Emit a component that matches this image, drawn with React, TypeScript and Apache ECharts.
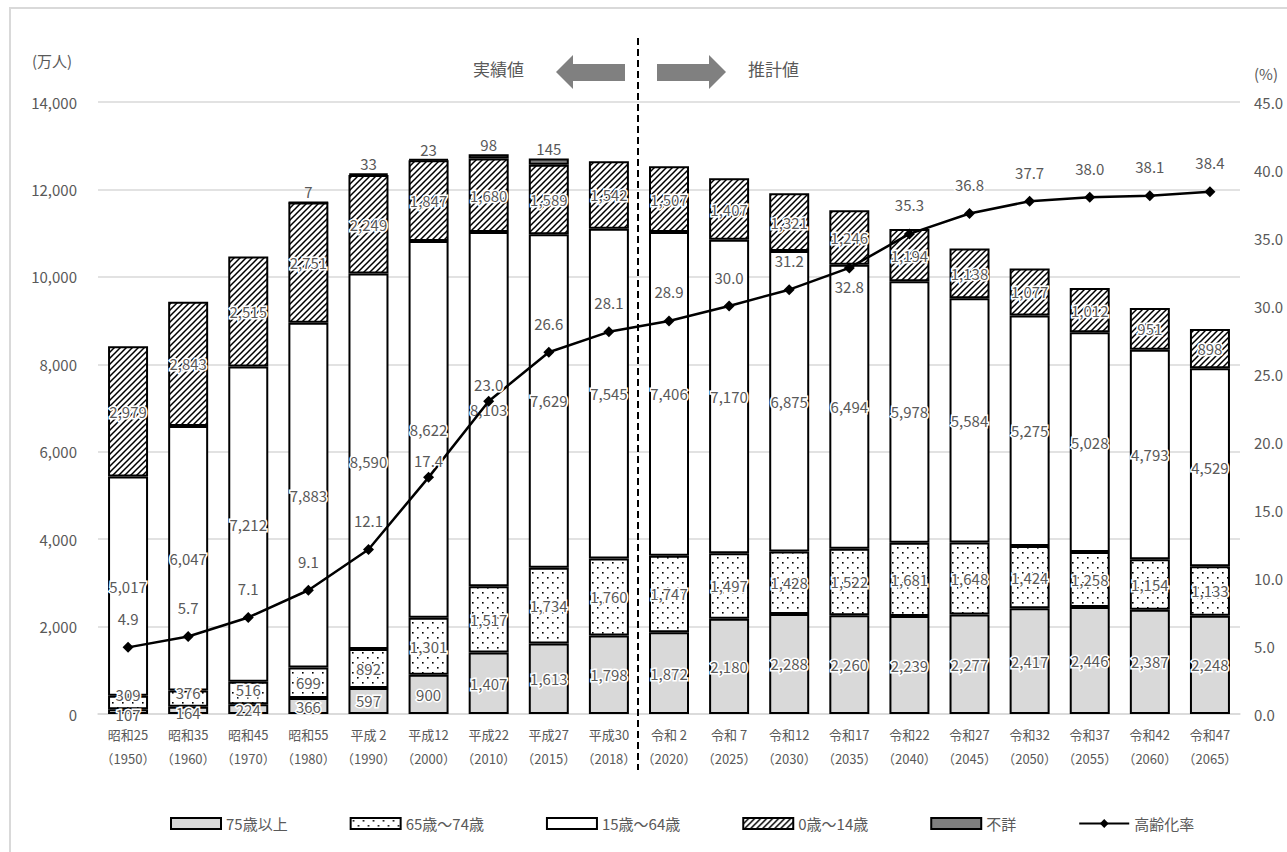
import React, { useEffect, useRef } from "react";
import * as echarts from "echarts";

const categories = [
  "昭和25\n（1950）", "昭和35\n（1960）", "昭和45\n（1970）", "昭和55\n（1980）",
  "平成 2\n（1990）", "平成12\n（2000）", "平成22\n（2010）", "平成27\n（2015）",
  "平成30\n（2018）", "令和 2\n（2020）", "令和 7\n（2025）", "令和12\n（2030）",
  "令和17\n（2035）", "令和22\n（2040）", "令和27\n（2045）", "令和32\n（2050）",
  "令和37\n（2055）", "令和42\n（2060）", "令和47\n（2065）",
];
const age75plus = [107, 164, 224, 366, 597, 900, 1407, 1613, 1798, 1872, 2180, 2288, 2260, 2239, 2277, 2417, 2446, 2387, 2248];
const age65to74 = [309, 376, 516, 699, 892, 1301, 1517, 1734, 1760, 1747, 1497, 1428, 1522, 1681, 1648, 1424, 1258, 1154, 1133];
const age15to64 = [5017, 6047, 7212, 7883, 8590, 8622, 8103, 7629, 7545, 7406, 7170, 6875, 6494, 5978, 5584, 5275, 5028, 4793, 4529];
const age0to14 = [2979, 2843, 2515, 2751, 2249, 1847, 1680, 1589, 1542, 1507, 1407, 1321, 1246, 1194, 1138, 1077, 1012, 951, 898];
const unknown: (number | null)[] = [null, null, null, 7, 33, 23, 98, 145, null, null, null, null, null, null, null, null, null, null, null];
const agingRate = [4.9, 5.7, 7.1, 9.1, 12.1, 17.4, 23.0, 26.6, 28.1, 28.9, 30.0, 31.2, 32.8, 35.3, 36.8, 37.7, 38.0, 38.1, 38.4];

const seriesNames = ["75歳以上", "65歳～74歳", "15歳～64歳", "0歳～14歳", "不詳", "高齢化率"];

const FONT = "'Noto Sans CJK JP', 'Noto Sans', sans-serif";
const TEXT = "#595959";

function hatchPattern() {
  const s = 6;
  const c = document.createElement("canvas");
  c.width = s;
  c.height = s;
  const g = c.getContext("2d")!;
  g.fillStyle = "#fff";
  g.fillRect(0, 0, s, s);
  g.strokeStyle = "#000";
  g.lineWidth = 1.5;
  g.beginPath();
  g.moveTo(-1, s + 1);
  g.lineTo(s + 1, -1);
  g.moveTo(-2, 2);
  g.lineTo(2, -2);
  g.moveTo(s - 2, s + 2);
  g.lineTo(s + 2, s - 2);
  g.stroke();
  return { image: c, repeat: "repeat", imageWidth: s, imageHeight: s };
}

function dotPattern() {
  const s = 10;
  const c = document.createElement("canvas");
  c.width = s;
  c.height = s;
  const g = c.getContext("2d")!;
  g.fillStyle = "#fff";
  g.fillRect(0, 0, s, s);
  g.fillStyle = "#000";
  g.fillRect(2, 2, 1.6, 1.6);
  g.fillRect(7, 7, 1.6, 1.6);
  return { image: c, repeat: "repeat", imageWidth: s, imageHeight: s };
}

const fmt = (v: any) => (v == null || v === "-" ? "" : Number(v).toLocaleString("en-US"));

export default function App() {
  const ref = useRef<HTMLDivElement>(null);
  useEffect(() => {
    document.body.style.margin = "0";
    const chart = echarts.init(ref.current!, null, { renderer: "svg" });
    const barLabel = {
      show: true,
      position: "inside",
      color: TEXT,
      fontSize: 15,
      fontFamily: FONT,
      textBorderColor: "#fff",
      textBorderWidth: 3,
      formatter: (p: any) => fmt(p.value),
    };
    const fills = ["#d9d9d9", dotPattern(), "#ffffff", hatchPattern(), "#7f7f7f"];
    const datas = [age75plus, age65to74, age15to64, age0to14, unknown];
    const labelShift65 = [-8, -6, -3];
    const labelShift75 = [3, 2];
    const barSeries = datas.map((d, i) => ({
      type: "bar",
      stack: "pop",
      barWidth: 40,
      name: seriesNames[i],
      data: d.map((v, j) => {
        if (v == null) return "-";
        if (i === 1 && j < labelShift65.length) return { value: v, label: { offset: [0, labelShift65[j]] } };
        if (i === 0 && j < labelShift75.length) return { value: v, label: { offset: [0, labelShift75[j]] } };
        return v;
      }),
      itemStyle: { color: fills[i], borderColor: "#000", borderWidth: 2 },
      label: i === 4 ? { ...barLabel, position: "top", distance: 2, textBorderWidth: 0 } : barLabel,
    }));

    const option: any = {
      animation: false,
      textStyle: { fontFamily: FONT },
      grid: { left: 98, right: 47, top: 102, bottom: 138 },
      legend: {
        top: 811,
        left: 165,
        itemWidth: 50,
        itemHeight: 11,
        itemGap: 62,
        textStyle: { color: TEXT, fontSize: 15, fontFamily: FONT },
        data: seriesNames.map((n, i) => (i < 5 ? { name: n, icon: "rect" } : { name: n })),
      },
      xAxis: {
        type: "category",
        data: categories,
        axisLine: { lineStyle: { color: "#d9d9d9", width: 1.5 } },
        axisTick: { show: false },
        axisLabel: { color: TEXT, fontSize: 13, lineHeight: 24, margin: 8, fontFamily: FONT, interval: 0 },
      },
      yAxis: [
        {
          type: "value",
          min: 0,
          max: 14000,
          interval: 2000,
          axisLabel: { color: TEXT, fontSize: 15, margin: 21, fontFamily: FONT, formatter: (v: number) => v.toLocaleString("en-US") },
          splitLine: { lineStyle: { color: "#d9d9d9", width: 1.5 } },
          axisLine: { show: false },
          axisTick: { show: false },
        },
        {
          type: "value",
          min: 0,
          max: 45,
          interval: 5,
          position: "right",
          axisLabel: { color: TEXT, fontSize: 15, margin: 14, fontFamily: FONT, formatter: (v: number) => v.toFixed(1) },
          splitLine: { show: false },
          axisLine: { show: false },
          axisTick: { show: false },
        },
      ],
      series: [
        ...barSeries,
        {
          name: seriesNames[5],
          type: "line",
          yAxisIndex: 1,
          data: agingRate.map((v, j) => {
            if (j === 12) return { value: v, label: { position: "bottom", distance: 6 } };
            if (j === 5 || j === 6) return { value: v, label: { distance: 4 } };
            return v;
          }),
          z: 5,
          symbol: "diamond",
          symbolSize: 11,
          lineStyle: { color: "#000", width: 2.5 },
          itemStyle: { color: "#000" },
          label: {
            show: true,
            position: "top",
            distance: 16,
            color: TEXT,
            fontSize: 15,
            fontFamily: FONT,
            textBorderColor: "#fff",
            textBorderWidth: 3,
            formatter: (p: any) => Number(p.value).toFixed(1),
          },
        },
      ],
      graphic: [
        {
          type: "rect",
          z: -10,
          shape: { x: 10, y: 8, width: 1300, height: 900 },
          style: { fill: "none", stroke: "#d9d9d9", lineWidth: 2 },
          silent: true,
        },
        {
          type: "line",
          shape: { x1: 638, y1: 38, x2: 638, y2: 770 },
          style: { stroke: "#000", lineWidth: 2, lineDash: [7, 4] },
          z: 10,
        },
        {
          type: "polygon",
          shape: { points: [[556, 72], [573, 55], [573, 64], [625, 64], [625, 81], [573, 81], [573, 89]] },
          style: { fill: "#808080" },
        },
        {
          type: "polygon",
          shape: { points: [[657, 64], [709, 64], [709, 55], [726, 72], [709, 89], [709, 81], [657, 81]] },
          style: { fill: "#808080" },
        },
        {
          type: "text",
          x: 473,
          y: 68,
          style: { text: "実績値", fill: TEXT, fontSize: 17, fontFamily: FONT, verticalAlign: "middle" },
        },
        {
          type: "text",
          x: 748,
          y: 68,
          style: { text: "推計値", fill: TEXT, fontSize: 17, fontFamily: FONT, verticalAlign: "middle" },
        },
        {
          type: "text",
          x: 32,
          y: 60,
          style: { text: "(万人)", fill: TEXT, fontSize: 15, fontFamily: FONT, verticalAlign: "middle" },
        },
        {
          type: "text",
          x: 1254,
          y: 73,
          style: { text: "(%)", fill: TEXT, fontSize: 15, fontFamily: FONT, verticalAlign: "middle" },
        },
      ],
    };
    chart.setOption(option);
    return () => chart.dispose();
  }, []);
  return <div ref={ref} style={{ width: 1287, height: 852 }} />;
}
